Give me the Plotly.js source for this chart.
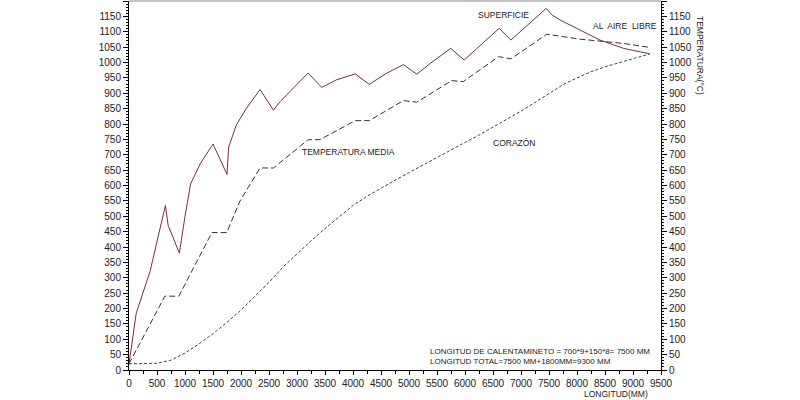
<!DOCTYPE html>
<html>
<head>
<meta charset="utf-8">
<script src="https://cdn.plot.ly/plotly-3.0.1.min.js"></script>
<style>html,body{margin:0;padding:0;background:#fff;}#chart{width:800px;height:400px;}</style>
</head>
<body>
<div id="chart"></div>
<script>
// SUPERFICIE
const surfX = [0, 130, 375, 500, 650, 700, 900, 1000, 1100, 1270, 1500, 1750, 1780, 1920, 2100, 2340, 2580, 2700, 3200, 3440, 3710, 4040, 4290, 4600, 4900, 5140, 5380, 5745, 5985, 6610, 6820, 7450, 7550, 7700, 8050, 8410, 8830, 9300];
const surfY = [20, 185, 320, 420, 535, 470, 380, 500, 605, 670, 735, 636, 725, 798, 852, 912, 845, 873, 966, 919, 944, 963, 929, 965, 993, 962, 997, 1046, 1008, 1111, 1073, 1176, 1155, 1138, 1105, 1073, 1046, 1028];
// TEMPERATURA MEDIA
const medX = [0, 640, 890, 1480, 1745, 1980, 2340, 2580, 3200, 3410, 4040, 4290, 4900, 5140, 5760, 5970, 6600, 6820, 7460, 8050, 8830, 9300];
const medY = [20, 240, 240, 447, 447, 549, 657, 657, 749, 749, 811, 811, 876, 871, 941, 938, 1019, 1012, 1092, 1076, 1062, 1049];
// CORAZÓN
const coreX = [0, 250, 500, 750, 1000, 1250, 1500, 1750, 2000, 2250, 2500, 2750, 3000, 3250, 3500, 3750, 4000, 4250, 4500, 4750, 5000, 5250, 5500, 5750, 6000, 6250, 6500, 6750, 7000, 7250, 7500, 7750, 8000, 8250, 8500, 8750, 9000, 9300];
const coreY = [20, 20, 22, 32, 55, 85, 118, 155, 195, 240, 285, 335, 378, 420, 460, 498, 535, 565, 592, 617, 642, 667, 691, 715, 740, 764, 790, 815, 842, 870, 898, 928, 950, 970, 986, 999, 1011, 1028];

const F = "Liberation Sans, Arial, sans-serif";
const TXT = "#222";

const L = 129, R = 661, T = 1, B = 370;
function px(x) { return (x - L) / (R - L); }
function py(y) { return (B - y) / (B - T); }

const traces = [
  {x: surfX, y: surfY, mode: 'lines', line: {color: '#74303f', width: 1}, hoverinfo: 'skip'},
  {x: medX, y: medY, mode: 'lines', line: {color: '#333', width: 1, dash: '6px,3px'}, hoverinfo: 'skip'},
  {x: coreX, y: coreY, mode: 'lines', line: {color: '#444', width: 1, dash: '3px,2px'}, hoverinfo: 'skip', yaxis: 'y2'}
];

const ann = (text, x, y, extra) => Object.assign({
  text: text, xref: 'paper', yref: 'paper', x: px(x), y: py(y),
  xanchor: 'left', yanchor: 'middle', showarrow: false,
  font: {family: F, size: 8.5, color: TXT}
}, extra || {});

const yax = {
  range: [0, 1200], dtick: 50, tick0: 0,
  showgrid: false, zeroline: false,
  showline: true, linecolor: '#000', linewidth: 1,
  ticks: 'outside', ticklen: 5, tickcolor: '#000',
  minor: {dtick: 10, ticks: 'outside', ticklen: 2, tickcolor: '#000'},
  tickfont: {family: F, size: 10, color: TXT}
};

const layout = {
  width: 800, height: 400,
  margin: {l: L, r: 800 - R, t: T, b: 400 - B},
  paper_bgcolor: '#fff', plot_bgcolor: '#fff',
  showlegend: false,
  xaxis: {
    range: [0, 9500], dtick: 500, tick0: 0,
    showgrid: false, zeroline: false,
    showline: true, linecolor: '#000', linewidth: 1,
    ticks: 'outside', ticklen: 4, tickcolor: '#000',
    minor: {dtick: 250, ticks: 'outside', ticklen: 3, tickcolor: '#000'},
    tickfont: {family: F, size: 10, color: TXT}
  },
  yaxis: Object.assign({}, yax),
  yaxis2: Object.assign({}, yax, {overlaying: 'y', side: 'right'}),
  shapes: [
    {type: 'line', xref: 'paper', yref: 'paper', x0: 0, x1: 1, y0: 1, y1: 1, line: {color: '#888', width: 1}}
  ],
  annotations: [
    ann('SUPERFICIE', 476, 15),
    ann('AL  AIRE  LIBRE', 591, 26),
    ann('TEMPERATURA MEDIA', 300, 152),
    ann('CORAZÓN', 491, 143),
    ann('LONGITUD DE CALENTAMINETO = 700*9+150*8= 7500 MM', 428, 351, {font: {family: F, size: 8, color: TXT}}),
    ann('LONGITUD TOTAL=7500 MM+1800MM=9300 MM', 428, 361, {font: {family: F, size: 8, color: TXT}}),
    ann('LONGITUD(MM)', 582, 394, {font: {family: F, size: 8.5, color: TXT}}),
    ann('TEMPERATURA(°C)', 700, 55, {xanchor: 'center', textangle: 90, font: {family: F, size: 8.5, color: TXT}})
  ]
};

Plotly.newPlot('chart', traces, layout, {staticPlot: true, displayModeBar: false});
</script>
</body>
</html>
